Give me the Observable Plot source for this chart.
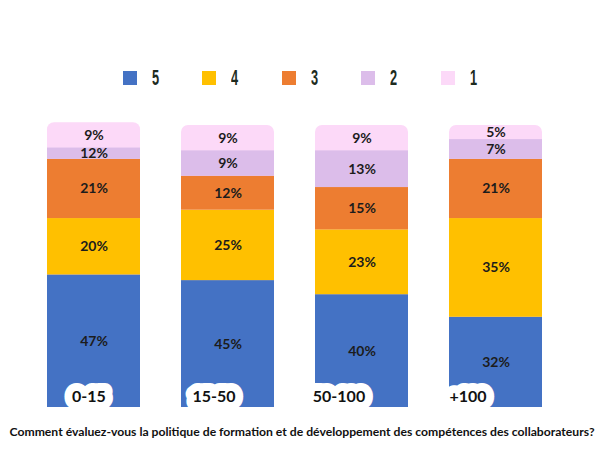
<!DOCTYPE html>
<html><head><meta charset="utf-8">
<script src="https://cdn.jsdelivr.net/npm/d3@7"></script>
<script src="https://cdn.jsdelivr.net/npm/@observablehq/plot@0.6"></script>
<style>
body{margin:0;background:#fff;}
#wrap{position:relative;width:604px;height:454px;overflow:hidden;}
#wrap svg{position:absolute;left:0;top:0;overflow:visible;}
.leg{position:absolute;top:64px;height:28px;display:flex;align-items:center;font-family:"Liberation Sans",Arial,sans-serif;font-weight:bold;font-size:22px;color:#1d2b1e;}
.leg span.sw{display:inline-block;width:14px;height:14px;margin-right:15px;}
.leg span.tx{display:inline-block;transform:scaleX(0.58);transform-origin:left center;}
#cap{position:absolute;left:0;width:604px;top:424px;text-align:center;font-family:Lato,sans-serif;font-weight:bold;font-size:12.2px;color:#111;white-space:nowrap;}
</style>
</head><body><div id="wrap"></div>
<script>
const categories = ["0-15", "15-50", "50-100", "+100"];
const levels = ["5", "4", "3", "2", "1"];
const levelColors = ["#4472C4", "#FFC000", "#ED7D31", "#DCBDEA", "#FCD9F8"];
// percentages shown on the bars
const pct5 = [47, 45, 40, 32];
const pct4 = [20, 25, 23, 35];
const pct3 = [21, 12, 15, 21];
const pct2 = [12, 9, 13, 7];
const pct1 = [9, 9, 9, 5];
// drawn heights of level 2 (first bar drawn thinner than its label)
const drawn2 = [4, 9, 13, 7];
const caption = "Comment évaluez-vous la politique de formation et de développement des compétences des collaborateurs?";

const series = {"5": pct5, "4": pct4, "3": pct3, "2": drawn2, "1": pct1};
const labelsBy = {"5": pct5, "4": pct4, "3": pct3, "2": pct2, "1": pct1};
const data = [];
levels.forEach(l => categories.forEach((c, i) => data.push({cat: c, level: l, value: series[l][i], label: labelsBy[l][i] + "%"})));
const totals = categories.map((c, i) => ({cat: c, total: levels.reduce((s, l) => s + series[l][i], 0)}));

// layout offsets of the category pills relative to bar centers (style only)
const pillShift = [-5, -14, -23, -28];

const marks = [
  Plot.barY(totals, {x: "cat", y: "total", fill: levelColors[4], rx: 7}),
  Plot.barY(data.filter(d => d.level !== "1"), Plot.stackY({x: "cat", y: "value", fill: "level"})),
  Plot.text(data, Plot.stackY({x: "cat", y: "value", text: "label", fill: "#1c1c1c", fontSize: 14, fontWeight: "bold", fontFamily: "Lato"})),
  ...categories.map((c, i) => Plot.text([c], {x: d => d, text: d => d, frameAnchor: "bottom", dy: -6, dx: pillShift[i], fill: "#111", stroke: "white", strokeWidth: 16, strokeLinejoin: "round", fontSize: 16, fontWeight: "bold", fontFamily: "Lato"}))
];

const chart = Plot.plot({
  width: 604, height: 454,
  marginTop: 125, marginBottom: 47, marginLeft: 5, marginRight: 21,
  x: {domain: categories, padding: 0.308, axis: null},
  y: {domain: [0, 100], axis: null},
  color: {domain: levels, range: levelColors},
  style: {background: "transparent"},
  marks
});
const wrap = document.getElementById("wrap");
wrap.appendChild(chart);

const legX = [123, 202, 282, 361, 441];
levels.forEach((l, i) => {
  const d = document.createElement("div");
  d.className = "leg";
  d.style.left = legX[i] + "px";
  d.innerHTML = `<span class="sw" style="background:${levelColors[i]}"></span><span class="tx">${l}</span>`;
  wrap.appendChild(d);
});
const cap = document.createElement("div");
cap.id = "cap"; cap.textContent = caption;
wrap.appendChild(cap);
</script>
</body></html>
